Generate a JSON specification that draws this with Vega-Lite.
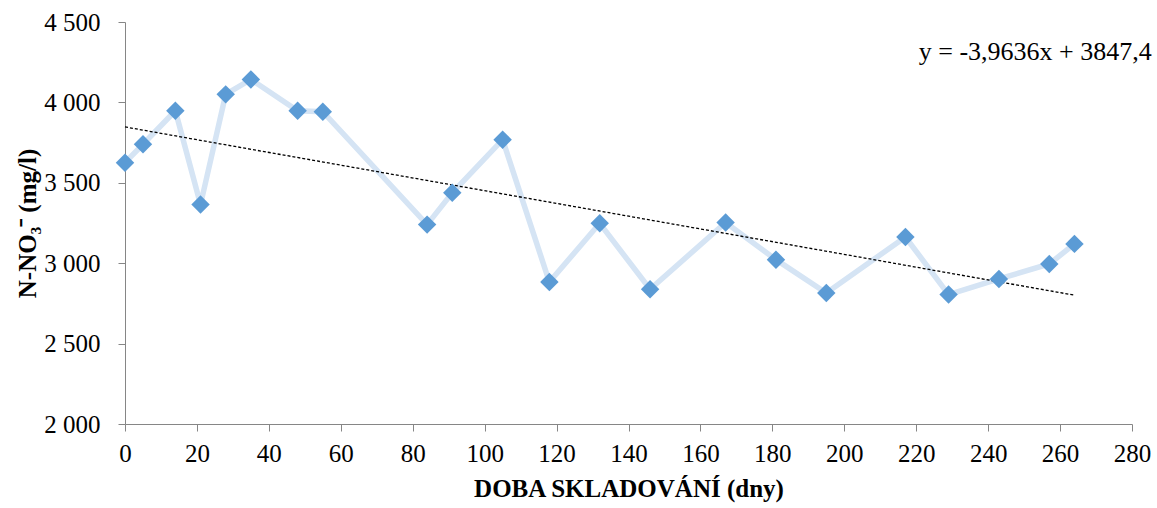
{
  "$schema": "https://vega.github.io/schema/vega-lite/v6.json",
  "width": 1007,
  "height": 402,
  "autosize": "none",
  "padding": {"left": 125, "top": 22, "right": 25, "bottom": 84},
  "background": "white",
  "config": {
    "view": {"stroke": null},
    "font": "Liberation Serif",
    "axis": {"grid": false, "domainColor": "#868686", "tickColor": "#868686", "labelFont": "Liberation Serif", "titleFont": "Liberation Serif", "labelFontSize": 25, "titleFontSize": 25, "labelColor": "black", "titleColor": "black", "tickSize": 7, "labelFlush": false, "labelOverlap": false}
  },
  "datasets": {
    "pts": [
      {"den": 0, "no3": 3625},
      {"den": 5, "no3": 3740},
      {"den": 14, "no3": 3948},
      {"den": 21, "no3": 3365},
      {"den": 28, "no3": 4050},
      {"den": 35, "no3": 4143},
      {"den": 48, "no3": 3948},
      {"den": 55, "no3": 3942},
      {"den": 84, "no3": 3240},
      {"den": 91, "no3": 3438},
      {"den": 105, "no3": 3768},
      {"den": 118, "no3": 2883},
      {"den": 132, "no3": 3248},
      {"den": 146, "no3": 2838},
      {"den": 167, "no3": 3253},
      {"den": 181, "no3": 3022},
      {"den": 195, "no3": 2815},
      {"den": 217, "no3": 3163},
      {"den": 229, "no3": 2805},
      {"den": 243, "no3": 2902},
      {"den": 257, "no3": 2995},
      {"den": 264, "no3": 3120}
    ],
    "trend": [
      {"den": 0, "no3": 3847.4},
      {"den": 264, "no3": 2801.0}
    ],
    "eq": [
      {"den": 285.5, "no3": 4313, "txt": "y = -3,9636x + 3847,4"}
    ]
  },
  "layer": [
    {
      "data": {"name": "pts"},
      "mark": {"type": "line", "color": "#D5E4F4", "strokeWidth": 5.5},
      "encoding": {
        "x": {"field": "den", "type": "quantitative", "scale": {"domain": [0, 280], "nice": false}, "axis": {"values": [0,20,40,60,80,100,120,140,160,180,200,220,240,260,280], "title": "DOBA SKLADOVÁNÍ (dny)", "titleFontWeight": "bold", "labelPadding": 10, "titlePadding": 10}},
        "y": {"field": "no3", "type": "quantitative", "scale": {"domain": [2000, 4500], "nice": false}, "axis": {"values": [2000,2500,3000,3500,4000,4500], "labelExpr": "replace(format(datum.value, ','), ',', ' ')", "title": "N-NO₃⁻ (mg/l)", "titleFontWeight": "bold", "labelPadding": 18, "titlePadding": 3}}
      }
    },
    {
      "data": {"name": "trend"},
      "mark": {"type": "line", "color": "black", "strokeWidth": 1.3, "strokeDash": [3, 2]},
      "encoding": {
        "x": {"field": "den", "type": "quantitative"},
        "y": {"field": "no3", "type": "quantitative"}
      }
    },
    {
      "data": {"name": "pts"},
      "mark": {"type": "point", "shape": "diamond", "filled": true, "color": "#5B9BD5", "opacity": 1, "size": 340},
      "encoding": {
        "x": {"field": "den", "type": "quantitative"},
        "y": {"field": "no3", "type": "quantitative"}
      }
    },
    {
      "data": {"name": "eq"},
      "mark": {"type": "text", "align": "right", "baseline": "middle", "fontSize": 26, "font": "Liberation Serif", "color": "black", "clip": false},
      "encoding": {
        "x": {"field": "den", "type": "quantitative"},
        "y": {"field": "no3", "type": "quantitative"},
        "text": {"field": "txt"}
      }
    }
  ]
}
